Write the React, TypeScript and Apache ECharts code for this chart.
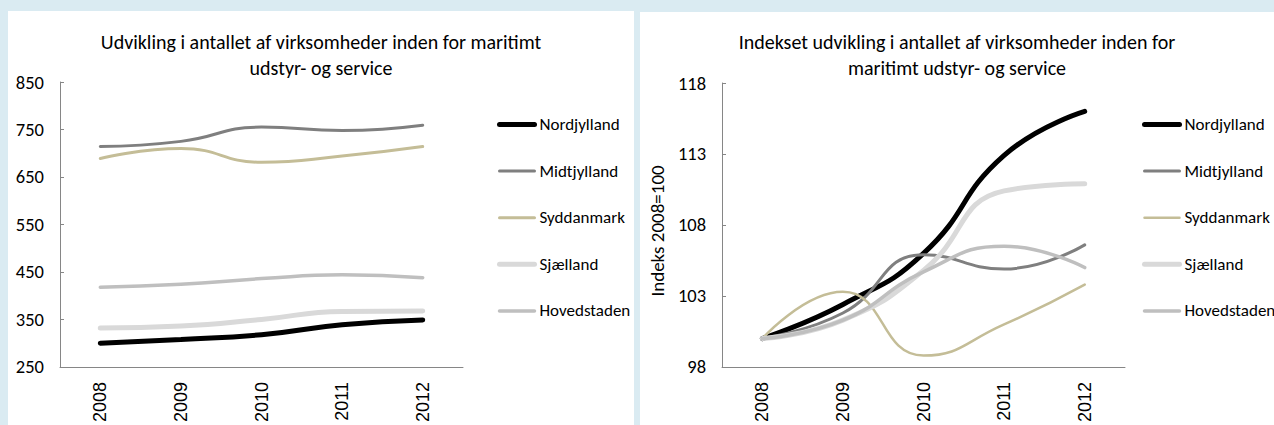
import React, { useEffect, useRef } from "react";
import * as echarts from "echarts";

const categories = ["2008", "2009", "2010", "2011", "2012"];
const seriesNames = ["Nordjylland", "Midtjylland", "Syddanmark", "Sjælland", "Hovedstaden"];

// Antal virksomheder
const nordAntal = [300, 308, 318, 339, 349];
const midtAntal = [714, 725, 755, 748, 759];
const sydAntal = [689, 710, 681, 694, 714];
const sjaelAntal = [332, 336, 350, 367, 368];
const hovedAntal = [418, 424, 436, 444, 438];

// Indeks 2008=100
const nordIndeks = [100, 102.4, 106.0, 112.9, 116.0];
const midtIndeks = [100, 101.8, 105.9, 104.9, 106.6];
const sydIndeks = [100, 103.3, 98.8, 101.0, 103.8];
const sjaelIndeks = [100, 101.3, 104.8, 110.4, 110.9];
const hovedIndeks = [100, 101.3, 104.7, 106.5, 105.0];

const leftTicks = { min: 250, max: 850, interval: 100 };
const rightTicks = { min: 98, max: 118, interval: 5 };

const colors = ["#000000", "#7f7f7f", "#c4bd97", "#d9d9d9", "#bfbfbf"];
const widthsLeft = [5, 3, 3, 5, 3.5];
const widthsRight = [5, 3, 2.5, 5, 3.5];

const FONT = "Carlito, 'Liberation Sans Narrow', 'Arial Narrow', Calibri, 'Open Sans', sans-serif";
const AXIS_FONT = "'Liberation Sans', Arial, sans-serif";

function makeOption(cfg: any) {
  return {
    animation: false,
    title: {
      text: cfg.title,
      left: "center",
      top: cfg.titleTop,
      textStyle: { fontSize: 20, fontWeight: "normal", color: "#000", fontFamily: FONT, lineHeight: 26 },
    },
    legend: {
      orient: "vertical",
      left: cfg.legendLeft,
      top: cfg.legendTop,
      itemWidth: 35,
      itemHeight: 14,
      itemGap: 29.6,
      padding: 0,
      data: seriesNames,
      itemStyle: { opacity: 0, borderWidth: 0 },
      lineStyle: { width: "inherit", cap: "round" },
      textStyle: { fontSize: 17, lineHeight: 17, color: "#000", fontFamily: FONT },
    },
    grid: { left: cfg.gridLeft, top: cfg.gridTop, width: cfg.gridWidth, height: cfg.gridHeight },
    xAxis: {
      type: "category",
      data: categories,
      boundaryGap: true,
      axisLine: { show: true, lineStyle: { color: "#868686", width: 1 } },
      axisTick: { show: false },
      axisLabel: { rotate: 90, fontSize: 18, color: "#000", fontFamily: AXIS_FONT, margin: 15 },
      splitLine: { show: false },
    },
    yAxis: {
      type: "value",
      min: cfg.ticks.min,
      max: cfg.ticks.max,
      interval: cfg.ticks.interval,
      name: cfg.yName || "",
      nameLocation: "middle",
      nameGap: 50,
      nameTextStyle: { fontSize: 19, color: "#000", fontFamily: FONT, padding: [0, 12, 0, 0] },
      axisLine: { show: true, lineStyle: { color: "#868686", width: 1 } },
      axisTick: { show: true, inside: true, length: 4, lineStyle: { color: "#868686" } },
      axisLabel: { fontSize: 18.5, color: "#000", fontFamily: FONT, margin: 16 },
      splitLine: { show: false },
    },
    series: cfg.data.map((d: number[], i: number) => ({
      name: seriesNames[i],
      type: "line",
      data: d,
      smooth: true,
      symbol: "none",
      lineStyle: { color: colors[i], width: cfg.widths[i], cap: "round", join: "round" },
      itemStyle: { color: colors[i] },
    })),
  };
}

export default function App() {
  const leftRef = useRef<HTMLDivElement>(null);
  const rightRef = useRef<HTMLDivElement>(null);

  useEffect(() => {
    document.body.style.margin = "0";
    const c1 = echarts.init(leftRef.current!, undefined, { renderer: "svg" });
    const c2 = echarts.init(rightRef.current!, undefined, { renderer: "svg" });
    c1.setOption(
      makeOption({
        title: "Udvikling i antallet af virksomheder inden for maritimt\nudstyr- og service",
        titleTop: 13,
        legendLeft: 489,
        legendTop: 105,
        gridLeft: 52,
        gridTop: 71,
        gridWidth: 403,
        gridHeight: 286,
        ticks: leftTicks,
        widths: widthsLeft,
        data: [nordAntal, midtAntal, sydAntal, sjaelAntal, hovedAntal],
      })
    );
    c2.setOption(
      makeOption({
        title: "Indekset udvikling i antallet af virksomheder inden for\nmaritimt udstyr- og service",
        titleTop: 12,
        legendLeft: 502,
        legendTop: 104,
        gridLeft: 77,
        gridTop: 71,
        gridWidth: 408,
        gridHeight: 285,
        ticks: rightTicks,
        widths: widthsRight,
        yName: "Indeks 2008=100",
        data: [nordIndeks, midtIndeks, sydIndeks, sjaelIndeks, hovedIndeks],
      })
    );
    return () => {
      c1.dispose();
      c2.dispose();
    };
  }, []);

  return (
    <div style={{ position: "fixed", left: 0, top: 0, width: 1274, height: 425, background: "#daebf2", overflow: "hidden" }}>
      <div ref={leftRef} style={{ position: "absolute", left: 8, top: 11, width: 626, height: 414, background: "#ffffff" }} />
      <div ref={rightRef} style={{ position: "absolute", left: 640, top: 12, width: 634, height: 413, background: "#ffffff" }} />
    </div>
  );
}
